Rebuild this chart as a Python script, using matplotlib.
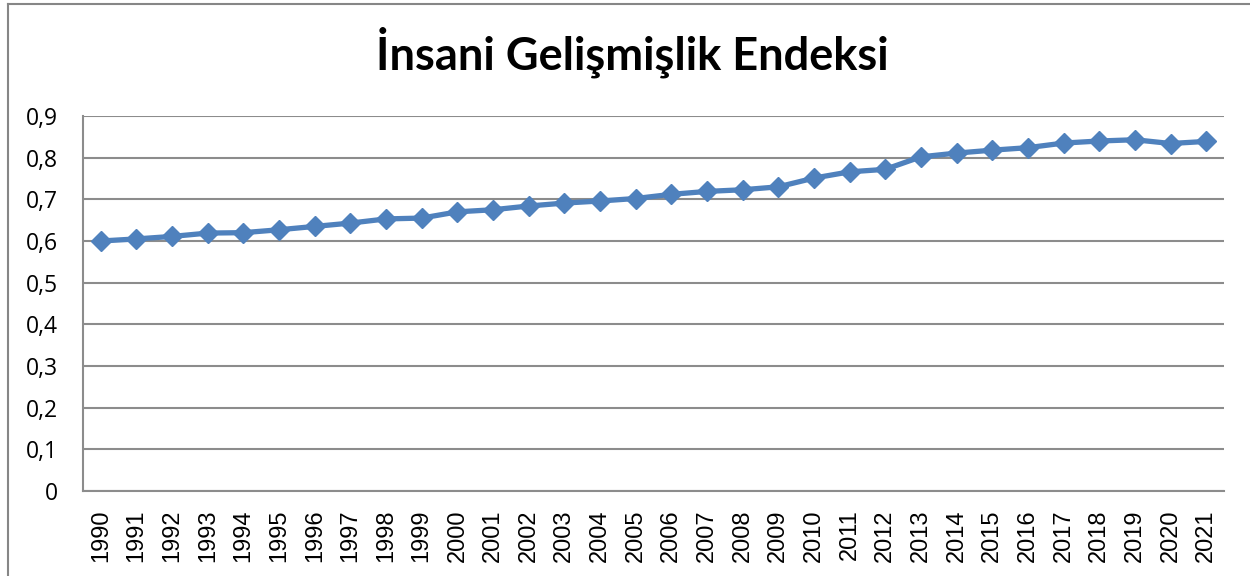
import matplotlib
matplotlib.use("Agg")
import matplotlib.pyplot as plt
from matplotlib.lines import Line2D

years = [str(y) for y in range(1990, 2022)]
hdi = [0.600, 0.605, 0.611, 0.619, 0.620, 0.627, 0.635, 0.643, 0.653, 0.655,
       0.670, 0.675, 0.684, 0.691, 0.696, 0.702, 0.712, 0.719, 0.723, 0.730,
       0.751, 0.766, 0.772, 0.802, 0.811, 0.818, 0.824, 0.835, 0.840, 0.843,
       0.834, 0.839]
yticks = [0, 0.1, 0.2, 0.3, 0.4, 0.5, 0.6, 0.7, 0.8, 0.9]
ytick_labels = ["0", "0,1", "0,2", "0,3", "0,4", "0,5", "0,6", "0,7", "0,8", "0,9"]
title = "İnsani Gelişmişlik Endeksi"

W, H = 1250, 576
fig = plt.figure(figsize=(W / 100, H / 100), dpi=100)
fig.patch.set_facecolor("white")

# chart frame (left and top edges)
frame = dict(transform=fig.transFigure, color="#868686", linewidth=1.5)
fig.add_artist(Line2D([7.5 / W, 7.5 / W], [0, 1 - 3.5 / H], **frame))
fig.add_artist(Line2D([7.5 / W, 1], [1 - 3.5 / H, 1 - 3.5 / H], **frame))

left, right, top, bottom = 83, 1224, 116, 491
ax = fig.add_axes([left / W, 1 - bottom / H, (right - left) / W, (bottom - top) / H])

x = list(range(len(years)))
ax.plot(x, hdi, color="#4F81BD", linewidth=3.8, marker="D", markersize=10,
        markeredgecolor="#4F81BD", markerfacecolor="#4F81BD", zorder=3,
        solid_joinstyle="round")

ax.set_xlim(-0.5, len(years) - 0.5)
ax.set_ylim(0, 0.9)
ax.set_yticks(yticks)
ax.set_yticklabels(ytick_labels, fontsize=16.5, family="Open Sans")
ax.set_xticks(x)
ax.set_xticklabels(years, rotation=90, fontsize=17, family="Liberation Sans")
ax.tick_params(axis="y", length=0, pad=18)
ax.tick_params(axis="x", length=0, pad=13)

ax.grid(axis="y", color="#8c8c8c", linewidth=1.5)
ax.set_axisbelow(True)
for side in ["top", "right"]:
    ax.spines[side].set_visible(False)
for side in ["left", "bottom"]:
    ax.spines[side].set_color("#8c8c8c")
    ax.spines[side].set_linewidth(1.5)

fig.text(632 / W, 1 - 52 / H, title, ha="center", va="center",
         fontsize=32.5, fontweight="bold", family="Lato")

fig.savefig("out.png", dpi=100)
